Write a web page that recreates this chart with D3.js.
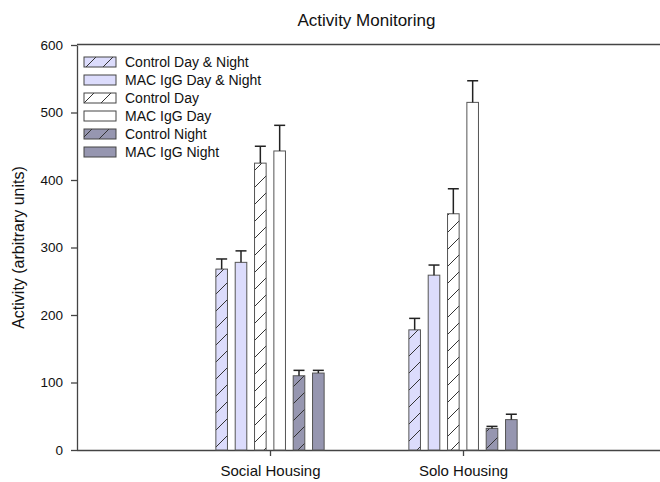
<!DOCTYPE html>
<html><head><meta charset="utf-8">
<script src="https://cdn.jsdelivr.net/npm/d3@7"></script>
<style>body{margin:0;background:#fff;} text{font-family:"Liberation Sans",Arial,sans-serif;}</style>
</head><body>
<svg id="c" width="660" height="482"></svg>
<script>
const categories = ["Social Housing", "Solo Housing"];
const seriesNames = ["Control Day & Night", "MAC IgG Day & Night", "Control Day", "MAC IgG Day", "Control Night", "MAC IgG Night"];
const controlDayNight = [268, 178];
const controlDayNightErr = [15, 17];
const macDayNight = [278, 259];
const macDayNightErr = [17, 15];
const controlDay = [425, 350];
const controlDayErr = [25, 37];
const macDay = [443, 515];
const macDayErr = [38, 32];
const controlNight = [110, 32];
const controlNightErr = [8, 3];
const macNight = [114, 45];
const macNightErr = [4, 8];
const yTicks = [0, 100, 200, 300, 400, 500, 600];

const values = [controlDayNight, macDayNight, controlDay, macDay, controlNight, macNight];
const errs = [controlDayNightErr, macDayNightErr, controlDayErr, macDayErr, controlNightErr, macNightErr];
const fills = ["#dcdcfc", "#dcdcfc", "#ffffff", "#ffffff", "#9696b0", "#9696b0"];
const hatched = [true, false, true, false, true, false];

const svg = d3.select("#c");
const m = {l: 77, r: 656, t: 45, b: 450};
const x = d3.scalePoint().domain(categories).range([m.l, m.r]).padding(1);
const inner = d3.scaleBand().domain(d3.range(6)).range([-58, 58]).paddingInner(0.4).paddingOuter(0.2);
const y = d3.scaleLinear().domain([0, 600]).range([m.b, m.t]);

const defs = svg.append("defs");
fills.forEach((f, i) => {
  if (!hatched[i]) return;
  const p = defs.append("pattern").attr("id", "h" + i).attr("patternUnits", "userSpaceOnUse")
    .attr("width", 17).attr("height", 17);
  p.append("rect").attr("width", 17).attr("height", 17).attr("fill", f);
  p.append("path").attr("d", "M-1,18 L18,-1 M-18,18 L1,-1 M16,35 L35,16").attr("stroke", "#333").attr("stroke-width", 1);
});
const fillOf = i => hatched[i] ? `url(#h${i})` : fills[i];

// Title
svg.append("text").attr("x", (m.l + m.r) / 2).attr("y", 26).attr("text-anchor", "middle")
  .attr("font-size", 17).attr("fill", "#111").text("Activity Monitoring");

// Y axis
const yAxis = svg.append("g").attr("transform", `translate(${m.l},0)`)
  .call(d3.axisLeft(y).tickValues(yTicks).tickSize(6).tickPadding(8).tickSizeOuter(0));
yAxis.selectAll("text").attr("font-size", 13.5).attr("fill", "#111").style("font-family", "Liberation Sans, Arial, sans-serif");
yAxis.selectAll("line, path").attr("stroke", "#444").attr("stroke-width", 1.3);

svg.append("text").attr("transform", `translate(24,${(m.t + m.b) / 2}) rotate(-90)`)
  .attr("text-anchor", "middle").attr("font-size", 16).attr("fill", "#111").text("Activity (arbitrary units)");

// X axis
const xAxis = svg.append("g").attr("transform", `translate(0,${m.b})`)
  .call(d3.axisBottom(x).tickSize(6).tickPadding(9).tickSizeOuter(0));
xAxis.select(".domain").attr("d", `M${m.l},0.5H660`);
xAxis.selectAll("text").attr("font-size", 15).attr("fill", "#111").style("font-family", "Liberation Sans, Arial, sans-serif");
xAxis.selectAll("line, path").attr("stroke", "#444").attr("stroke-width", 1.3);

// Top frame line
svg.append("line").attr("x1", m.l).attr("x2", 660).attr("y1", 44.5).attr("y2", 44.5)
  .attr("stroke", "#444").attr("stroke-width", 1.5);

// Bars
values.forEach((vals, i) => {
  const g = svg.append("g");
  categories.forEach((c, j) => {
    const bx = x(c) + inner(i);
    const bw = inner.bandwidth();
    g.append("rect").attr("x", bx).attr("y", y(vals[j])).attr("width", bw)
      .attr("height", y(0) - y(vals[j])).attr("fill", fillOf(i)).attr("stroke", "#555").attr("stroke-width", 1);
    const cx = bx + bw / 2;
    const top = y(vals[j] + errs[i][j]);
    g.append("line").attr("x1", cx).attr("x2", cx).attr("y1", y(vals[j])).attr("y2", top)
      .attr("stroke", "#222").attr("stroke-width", 1.5);
    g.append("line").attr("x1", cx - 5.5).attr("x2", cx + 5.5).attr("y1", top).attr("y2", top)
      .attr("stroke", "#222").attr("stroke-width", 1.5);
  });
});

// Legend
const lg = svg.append("g");
seriesNames.forEach((n, i) => {
  const yy = 62 + i * 18;
  lg.append("rect").attr("x", 84).attr("y", yy - 5).attr("width", 32).attr("height", 10)
    .attr("fill", fillOf(i)).attr("stroke", "#444").attr("stroke-width", 1);
  lg.append("text").attr("x", 125).attr("y", yy + 5).attr("font-size", 14).attr("fill", "#111").text(n);
});
</script>
</body></html>
